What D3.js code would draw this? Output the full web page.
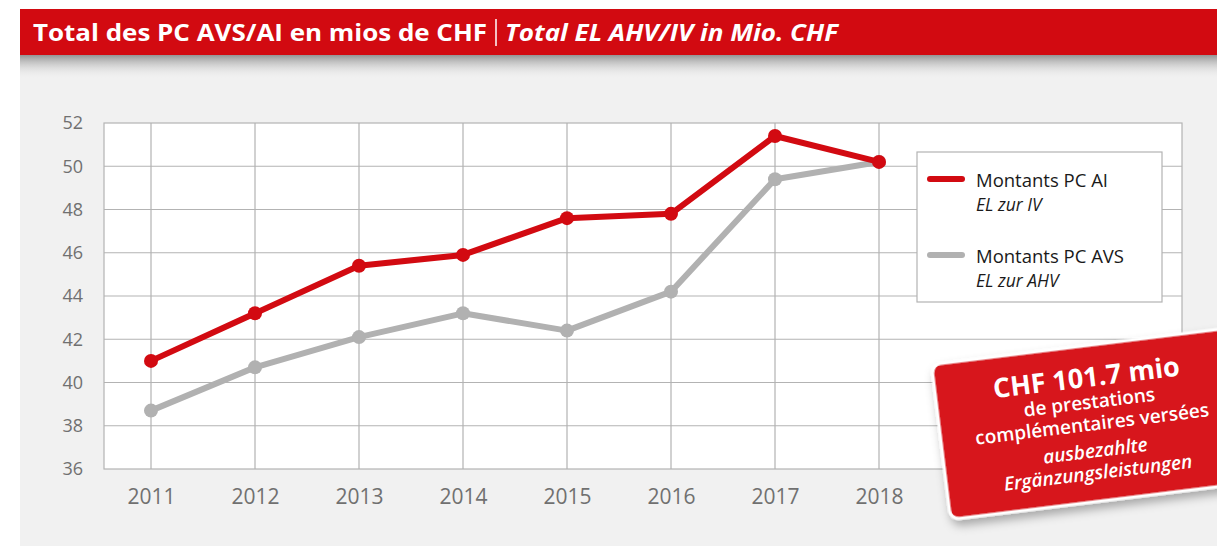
<!DOCTYPE html>
<html>
<head>
<meta charset="utf-8">
<script src="https://cdn.jsdelivr.net/npm/d3@7"></script>
<style>
	html, body { margin: 0; padding: 0; background: #fff; }
	#app { width: 1217px; height: 546px; }
	text { font-family: 'Open Sans', 'Noto Sans', sans-serif; }
</style>
</head>
<body>
<div id="app"></div>
<script>
// data
const years = [2011, 2012, 2013, 2014, 2015, 2016, 2017, 2018];
const montantsAI = [41.0, 43.2, 45.4, 45.9, 47.6, 47.8, 51.4, 50.2];
const montantsAVS = [38.7, 40.7, 42.1, 43.2, 42.4, 44.2, 49.4, 50.2];
const yTicks = [36, 38, 40, 42, 44, 46, 48, 50, 52];
const seriesNames = [
	{ fr: 'Montants PC AI', de: 'EL zur IV', values: montantsAI, color: '#d20a11' },
	{ fr: 'Montants PC AVS', de: 'EL zur AHV', values: montantsAVS, color: '#b1b1b1' }
];
const titleFr = 'Total des PC AVS/AI en mios de CHF';
const titleDe = 'Total EL AHV/IV in Mio. CHF';
const calloutLines = [
	{ t: 'CHF 101.7 mio', size: 27, weight: 700, style: 'normal' },
	{ t: 'de prestations', size: 19, weight: 600, style: 'normal' },
	{ t: 'complémentaires versées', size: 19, weight: 600, style: 'normal' },
	{ t: 'ausbezahlte', size: 19, weight: 600, style: 'italic' },
	{ t: 'Ergänzungsleistungen', size: 19, weight: 600, style: 'italic' }
];

(function () {

	let app = d3.select('#app'),
		outerWidth = 1217,
		outerHeight = 546,
		frame = { left: 104, right: 1182, top: 123, bottom: 469 };

	let svg = app.append('svg')
		.attr('width', outerWidth)
		.attr('height', outerHeight);

	let defs = svg.append('defs');

	let shadowGrad = defs.append('linearGradient')
		.attr('id', 'bannerShadow')
		.attr('x1', 0).attr('y1', 0).attr('x2', 0).attr('y2', 1);
	shadowGrad.append('stop').attr('offset', '0%').attr('stop-color', '#8a8a8a').attr('stop-opacity', 0.9);
	shadowGrad.append('stop').attr('offset', '100%').attr('stop-color', '#f1f1f1').attr('stop-opacity', 0);

	let cardShadow = defs.append('filter')
		.attr('id', 'cardShadow')
		.attr('x', '-20%').attr('y', '-20%').attr('width', '140%').attr('height', '150%');
	cardShadow.append('feDropShadow')
		.attr('dx', 2).attr('dy', 6).attr('stdDeviation', 5)
		.attr('flood-color', '#000').attr('flood-opacity', 0.3);

	// grey panel
	svg.append('rect')
		.attr('x', 20).attr('y', 55)
		.attr('width', outerWidth - 20).attr('height', outerHeight - 55)
		.attr('fill', '#f1f1f1');

	svg.append('rect')
		.attr('x', 20).attr('y', 55)
		.attr('width', outerWidth - 20).attr('height', 24)
		.attr('fill', 'url(#bannerShadow)');

	// title banner
	svg.append('rect')
		.attr('x', 20).attr('y', 9)
		.attr('width', outerWidth - 20).attr('height', 46)
		.attr('fill', '#d20a11');

	svg.append('text')
		.attr('x', 33).attr('y', 41)
		.attr('fill', '#fff')
		.attr('font-size', 24)
		.attr('font-weight', 700)
		.attr('textLength', 454)
		.attr('lengthAdjust', 'spacingAndGlyphs')
		.text(titleFr);
	svg.append('line')
		.attr('x1', 496).attr('x2', 496)
		.attr('y1', 19).attr('y2', 46)
		.attr('stroke', '#fff').attr('stroke-width', 1.5);
	svg.append('text')
		.attr('x', 505).attr('y', 41)
		.attr('fill', '#fff')
		.attr('font-size', 24)
		.attr('font-weight', 700)
		.attr('font-style', 'italic')
		.attr('textLength', 333)
		.attr('lengthAdjust', 'spacingAndGlyphs')
		.text(titleDe);

	// scales
	let x = d3.scaleLinear()
		.domain(d3.extent(years))
		.range([151, 879]);

	let y = d3.scaleLinear()
		.domain(d3.extent(yTicks))
		.range([frame.bottom, frame.top]);

	let graph = svg.append('g');

	graph.append('rect')
		.attr('x', frame.left).attr('y', frame.top)
		.attr('width', frame.right - frame.left)
		.attr('height', frame.bottom - frame.top)
		.attr('fill', '#fff')
		.attr('stroke', '#b3b3b3')
		.attr('stroke-width', 1.2);

	graph.append('g')
		.attr('stroke', '#b3b3b3')
		.attr('stroke-width', 1.2)
	.selectAll('line')
	.data(yTicks.slice(1, -1))
	.enter().append('line')
		.attr('x1', frame.left).attr('x2', frame.right)
		.attr('y1', d => y(d)).attr('y2', d => y(d));

	graph.append('g')
		.attr('stroke', '#b3b3b3')
		.attr('stroke-width', 1.2)
	.selectAll('line')
	.data(years)
	.enter().append('line')
		.attr('x1', d => x(d)).attr('x2', d => x(d))
		.attr('y1', frame.top).attr('y2', frame.bottom);

	// axes
	let yAxis = graph.append('g')
		.attr('transform', 'translate(' + frame.left + ',0)')
		.call(d3.axisLeft(y).tickValues(yTicks).tickSize(0).tickPadding(21));
	yAxis.select('.domain').remove();
	yAxis.selectAll('text')
		.attr('fill', '#707070')
		.attr('font-size', 18)
		.attr('font-family', "'Open Sans', sans-serif");

	let xAxis = graph.append('g')
		.attr('transform', 'translate(0,' + frame.bottom + ')')
		.call(d3.axisBottom(x).tickValues(years).tickFormat(d3.format('d')).tickSize(0).tickPadding(20));
	xAxis.select('.domain').remove();
	xAxis.selectAll('text')
		.attr('fill', '#707070')
		.attr('font-size', 21)
		.attr('font-family', "'Open Sans', sans-serif");

	// series (grey first, red on top)
	let line = d3.line()
		.x((d, i) => x(years[i]))
		.y(d => y(d));

	seriesNames.slice().reverse().forEach(function (s) {
		graph.append('path')
			.datum(s.values)
			.attr('fill', 'none')
			.attr('stroke', s.color)
			.attr('stroke-width', 6)
			.attr('stroke-linejoin', 'round')
			.attr('d', line);

		graph.append('g')
			.attr('fill', s.color)
		.selectAll('circle')
		.data(s.values)
		.enter().append('circle')
			.attr('cx', (d, i) => x(years[i]))
			.attr('cy', d => y(d))
			.attr('r', 7);
	});

	// legend
	let legend = svg.append('g')
		.attr('transform', 'translate(917,152)');
	legend.append('rect')
		.attr('width', 245).attr('height', 150)
		.attr('fill', '#fff')
		.attr('stroke', '#b3b3b3')
		.attr('stroke-width', 1.2);

	let item = legend.selectAll('g.item')
		.data(seriesNames)
		.enter().append('g')
			.attr('class', 'item')
			.attr('transform', (d, i) => 'translate(0,' + (27 + i * 76) + ')');
	item.append('line')
		.attr('x1', 13).attr('x2', 45)
		.attr('stroke', d => d.color)
		.attr('stroke-width', 6)
		.attr('stroke-linecap', 'round');
	item.append('text')
		.attr('x', 59).attr('y', 8)
		.attr('font-size', 18.5)
		.attr('fill', '#1a1a1a')
		.text(d => d.fr);
	item.append('text')
		.attr('x', 59).attr('y', 32)
		.attr('font-size', 17.5)
		.attr('font-style', 'italic')
		.attr('fill', '#1a1a1a')
		.text(d => d.de);

	// callout card
	let card = svg.append('g')
		.attr('transform', 'translate(1088,424) rotate(-7)');
	card.append('rect')
		.attr('x', -148).attr('y', -78)
		.attr('width', 310).attr('height', 156)
		.attr('rx', 9)
		.attr('fill', '#d7121a')
		.attr('stroke', '#fff')
		.attr('stroke-width', 3)
		.attr('filter', 'url(#cardShadow)');

	card.selectAll('text')
		.data(calloutLines)
		.enter().append('text')
			.attr('x', 4)
			.attr('y', (d, i) => [-37, -15, 7, 34, 56][i])
			.attr('text-anchor', 'middle')
			.attr('fill', '#fff')
			.attr('font-size', d => d.size)
			.attr('font-weight', d => d.weight)
			.attr('font-style', d => d.style)
			.text(d => d.t);

})();
</script>
</body>
</html>
